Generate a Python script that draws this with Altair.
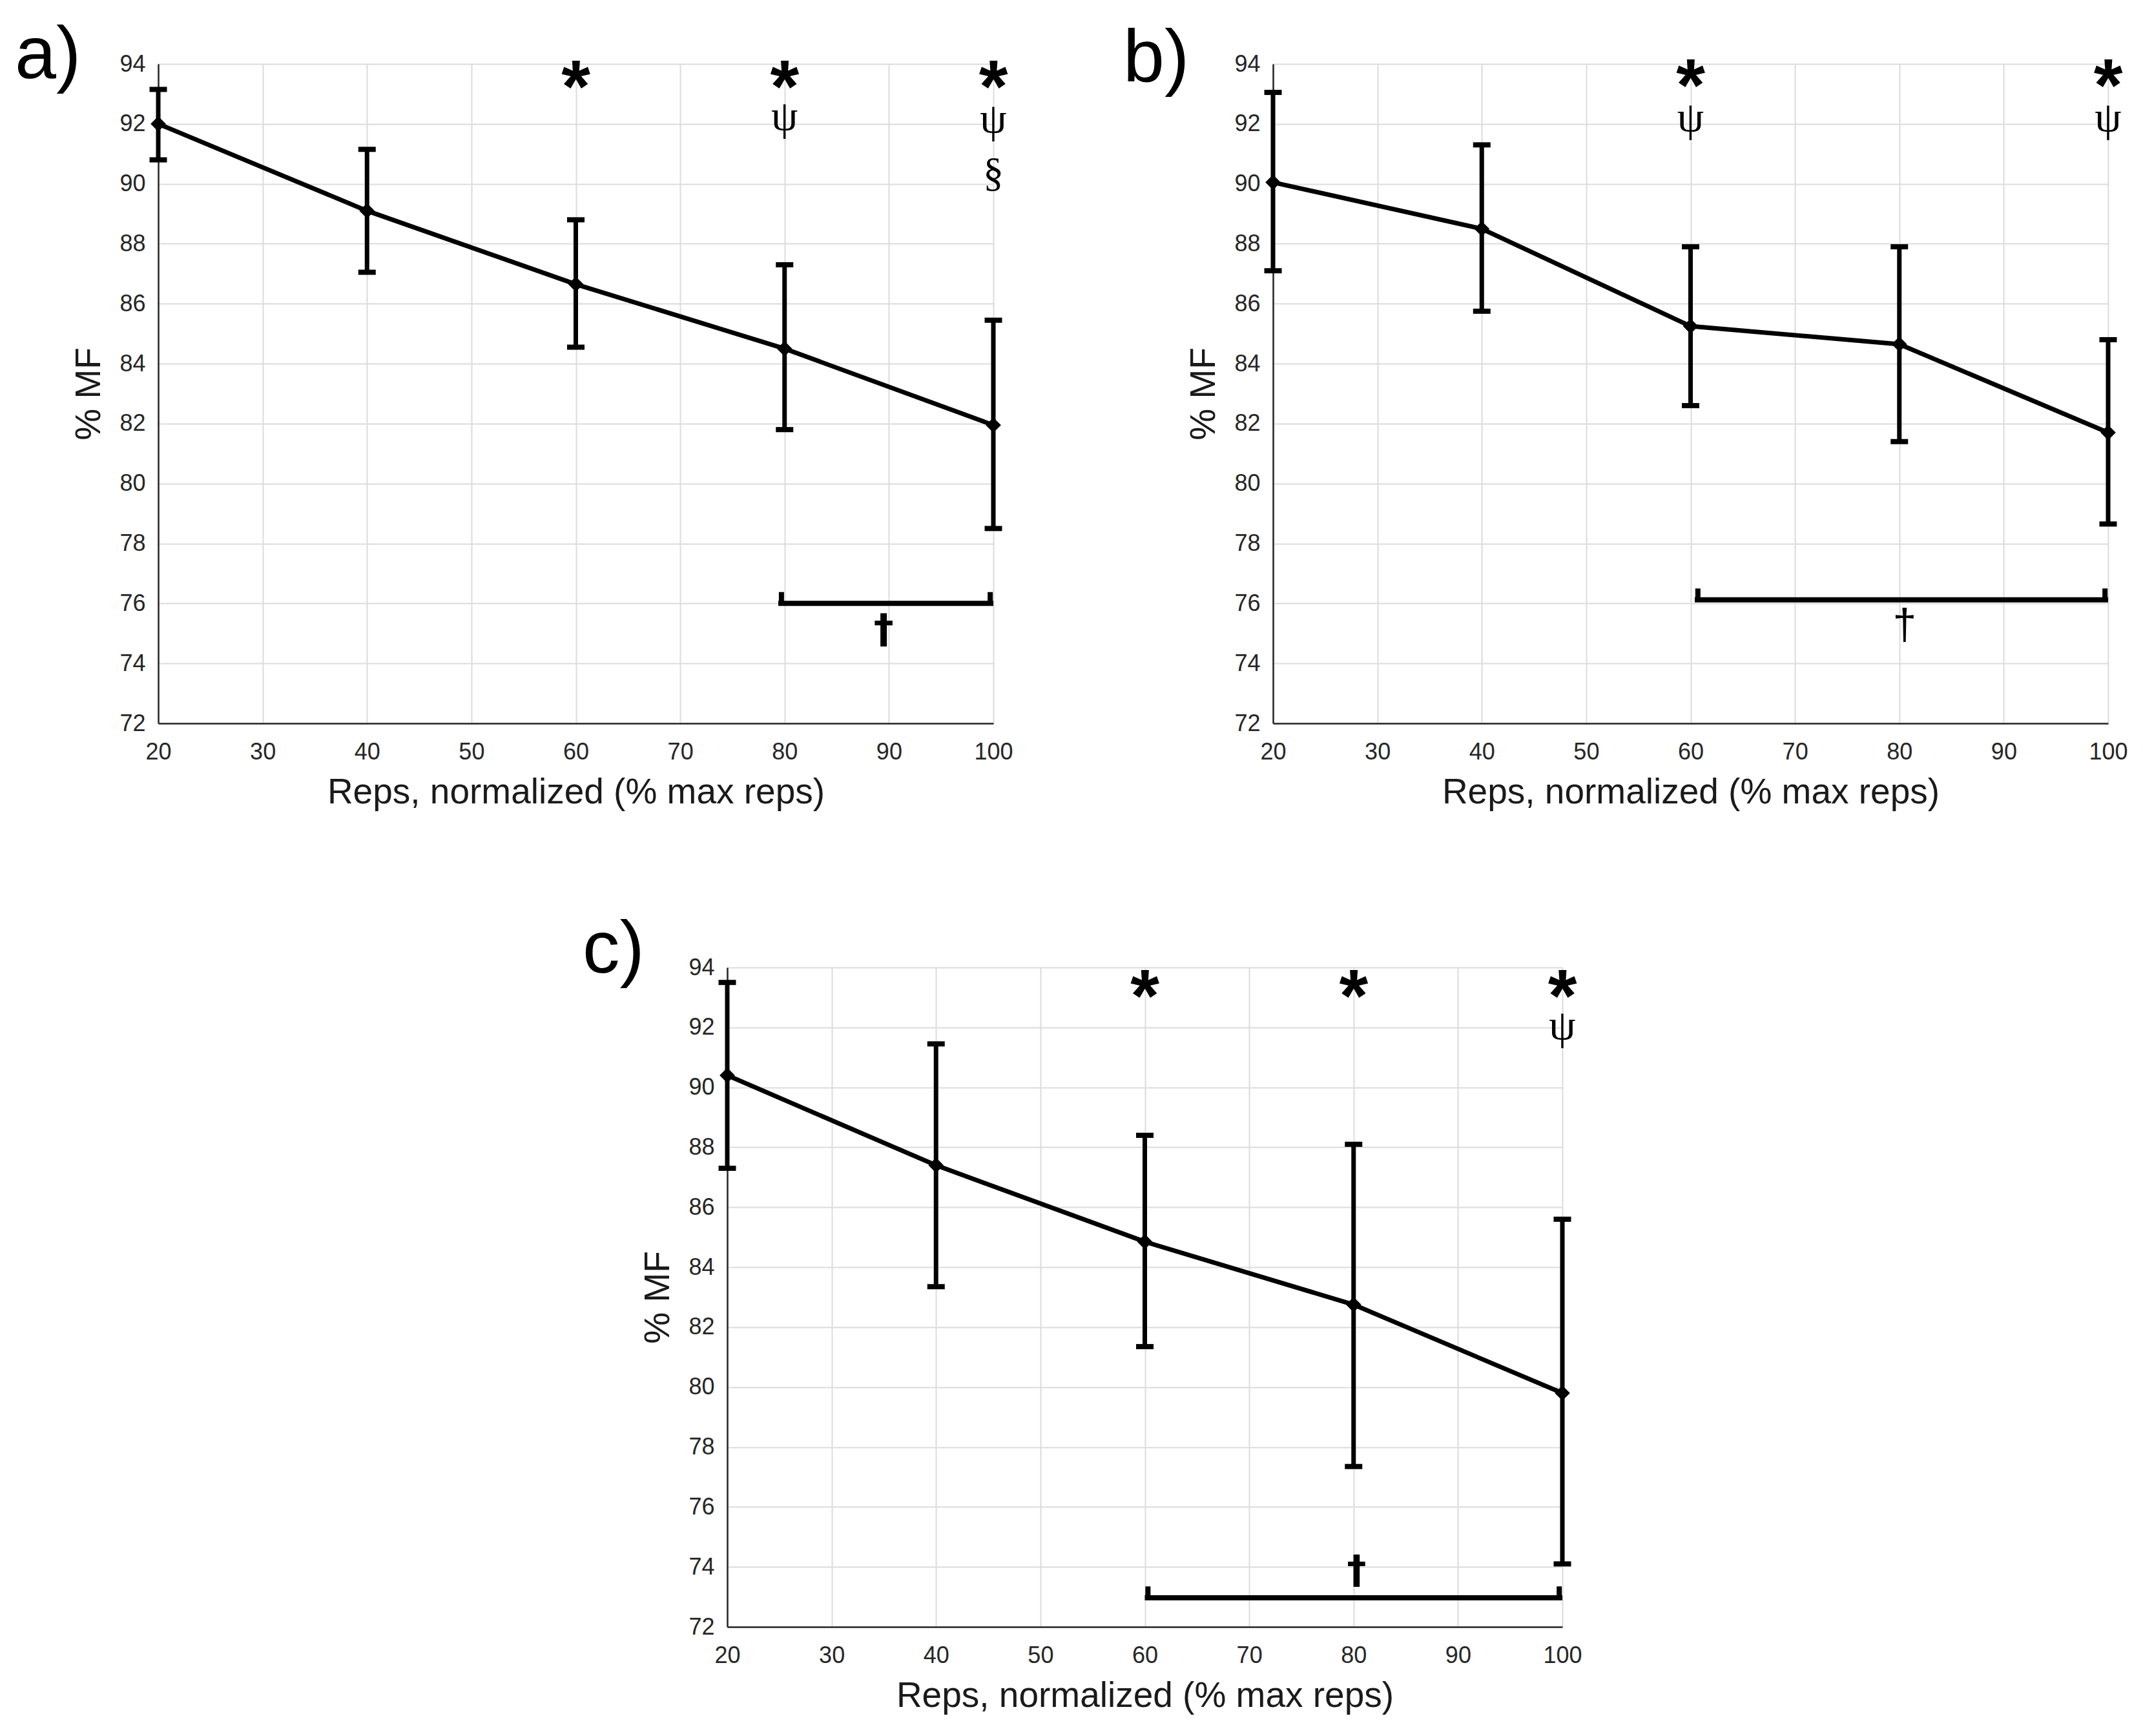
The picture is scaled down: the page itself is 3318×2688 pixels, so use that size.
import altair as alt
import pandas as pd

reps = [20, 40, 60, 80, 100]
x_ticks = [20, 30, 40, 50, 60, 70, 80, 90, 100]
y_ticks = [72, 74, 76, 78, 80, 82, 84, 86, 88, 90, 92, 94]

# panel a
mf_a = [92.0, 89.1, 86.65, 84.5, 81.95]
lo_a = [90.8, 87.05, 84.55, 81.8, 78.5]
hi_a = [93.15, 91.15, 88.8, 87.3, 85.45]
# panel b
mf_b = [90.05, 88.5, 85.25, 84.65, 81.7]
lo_b = [87.1, 85.75, 82.6, 81.4, 78.65]
hi_b = [93.05, 91.3, 87.9, 87.9, 84.8]
# panel c
mf_c = [90.4, 87.4, 84.85, 82.75, 79.8]
lo_c = [87.3, 83.35, 81.35, 77.35, 74.1]
hi_c = [93.5, 91.45, 88.4, 88.1, 85.6]

# significance symbols: x positions and the height of each symbol
stars_a, star_y_a = [60, 80, 100], [93.5, 93.5, 93.5]
psi_a, psi_y_a = [80, 100], [92.15, 92.05]
sect_a, sect_y_a = [100], [90.35]
stars_b, star_y_b = [60, 100], [93.55, 93.55]
psi_b, psi_y_b = [60, 100], [92.1, 92.1]
stars_c, star_y_c = [60, 80, 100], [93.3, 93.3, 93.3]
psi_c, psi_y_c = [100], [91.95]

# brackets (x from, x to, y) and dagger (x, y)
bracket_a, dagger_a = [79.4, 100, 76.0], [89.5, 75.1]
bracket_b, dagger_b = [60.4, 100, 76.12], [80.5, 75.25]
bracket_c, dagger_c = [60.0, 100, 72.97], [80.3, 73.85]

W, H = 1293, 1021
SANS = "Liberation Sans, Arial, sans-serif"
SERIF = "Liberation Serif, Times New Roman, serif"
INK = "#000000"

xs = alt.Scale(domain=[20, 100], nice=False, zero=False)
ys = alt.Scale(domain=[72, 94], nice=False, zero=False)


def xenc(field="x"):
    return alt.X(f"{field}:Q", scale=xs, title="Reps, normalized (% max reps)",
                 axis=alt.Axis(values=x_ticks, format="d"))


def yenc(field="y"):
    return alt.Y(f"{field}:Q", scale=ys, title="% MF",
                 axis=alt.Axis(values=y_ticks, format="d"))


def symbols(xv, yv, text, font, size, weight, dy):
    df = pd.DataFrame({"x": xv, "y": yv, "t": [text] * len(xv)})
    return alt.Chart(df).mark_text(
        font=font, fontSize=size, fontWeight=weight, color=INK,
        baseline="alphabetic", align="center", dy=dy
    ).encode(x=xenc(), y=yenc(), text="t:N")


def panel(tag, tag_x, tag_y, mf, lo, hi, stars, star_y, psi, psi_y,
          sect, sect_y, bracket, dagger, dagger_font, dagger_size, dagger_weight):
    pts = pd.DataFrame({"x": reps, "y": mf, "lo": lo, "hi": hi})
    caps = pd.DataFrame({"x": reps * 2, "y": lo + hi})

    bars = alt.Chart(pts).mark_rule(color=INK, strokeWidth=7).encode(
        x=xenc(), y=yenc("lo"), y2="hi:Q")
    cap = alt.Chart(caps).mark_tick(
        color=INK, orient="horizontal", size=27, thickness=8, opacity=1
    ).encode(x=xenc(), y=yenc())
    line = alt.Chart(pts).mark_line(color=INK, strokeWidth=7).encode(
        x=xenc(), y=yenc())
    dots = alt.Chart(pts).mark_point(
        shape="diamond", filled=True, color=INK, size=560, opacity=1
    ).encode(x=xenc(), y=yenc())

    br = pd.DataFrame({"x": [bracket[0]], "x2": [bracket[1]], "y": [bracket[2]]})
    br_h = alt.Chart(br).mark_rule(color=INK, strokeWidth=8).encode(
        x=xenc(), x2="x2:Q", y=yenc())
    ends = pd.DataFrame({"x": [bracket[0] + 0.3, bracket[1] - 0.3],
                         "y": [bracket[2]] * 2, "y2": [bracket[2] + 0.38] * 2})
    br_v = alt.Chart(ends).mark_rule(color=INK, strokeWidth=8).encode(
        x=xenc(), y=yenc(), y2="y2:Q")

    layers = [bars, cap, line, dots, br_h, br_v,
              symbols(stars, star_y, "*", SANS, 115, "bold", 51),
              symbols([dagger[0]], [dagger[1]], "\u2020", dagger_font, dagger_size,
                      dagger_weight, round(dagger_size * 0.3))]
    if psi:
        layers.append(symbols(psi, psi_y, "\u03c8", SERIF, 66, "normal", 16))
    if sect:
        layers.append(symbols(sect, sect_y, "\u00a7", SERIF, 64, "normal", 20))

    label = alt.Chart(pd.DataFrame({"t": [tag]})).mark_text(
        font=SANS, fontSize=115, color=INK, align="left", baseline="alphabetic"
    ).encode(text="t:N", x=alt.value(tag_x), y=alt.value(tag_y))
    layers.append(label)

    return alt.layer(*layers).properties(width=W, height=H)


pa = panel("a)", -222, 22, mf_a, lo_a, hi_a, stars_a, star_y_a, psi_a, psi_y_a,
           sect_a, sect_y_a, bracket_a, dagger_a, "DejaVu Sans", 62, "bold")
pb = panel("b)", -232, 27, mf_b, lo_b, hi_b, stars_b, star_y_b, psi_b, psi_y_b,
           [], [], bracket_b, dagger_b, SANS, 66, "normal")
pc = panel("c)", -224, 8, mf_c, lo_c, hi_c, stars_c, star_y_c, psi_c, psi_y_c,
           [], [], bracket_c, dagger_c, "DejaVu Sans", 60, "bold")

# empty view that pushes panel c to the right
spacer = alt.Chart(pd.DataFrame({"v": [0]})).mark_point(opacity=0).encode(
    x=alt.value(0), y=alt.value(0)
).properties(width=657, height=10)

top = alt.hconcat(pa, pb, spacing=170)
bottom = alt.hconcat(spacer, pc, spacing=0)
chart = alt.vconcat(top, bottom, spacing=160).properties(
    padding={"left": 15, "top": 21, "right": 5, "bottom": 5}
).configure_view(stroke=None).configure_axis(
    labelFont=SANS, labelFontSize=36, labelColor="#262626",
    titleFont=SANS, titleFontSize=55, titleColor="#1a1a1a", titleFontWeight="normal",
    domainColor="#262626", domainWidth=2.5, ticks=False,
    gridColor="#dcdcdc", gridWidth=2,
).configure_axisX(labelPadding=27, titlePadding=18, labelFlush=False
).configure_axisY(labelPadding=20, titlePadding=18)

chart.save("out.html", embed_options={"renderer": "svg", "actions": False})
